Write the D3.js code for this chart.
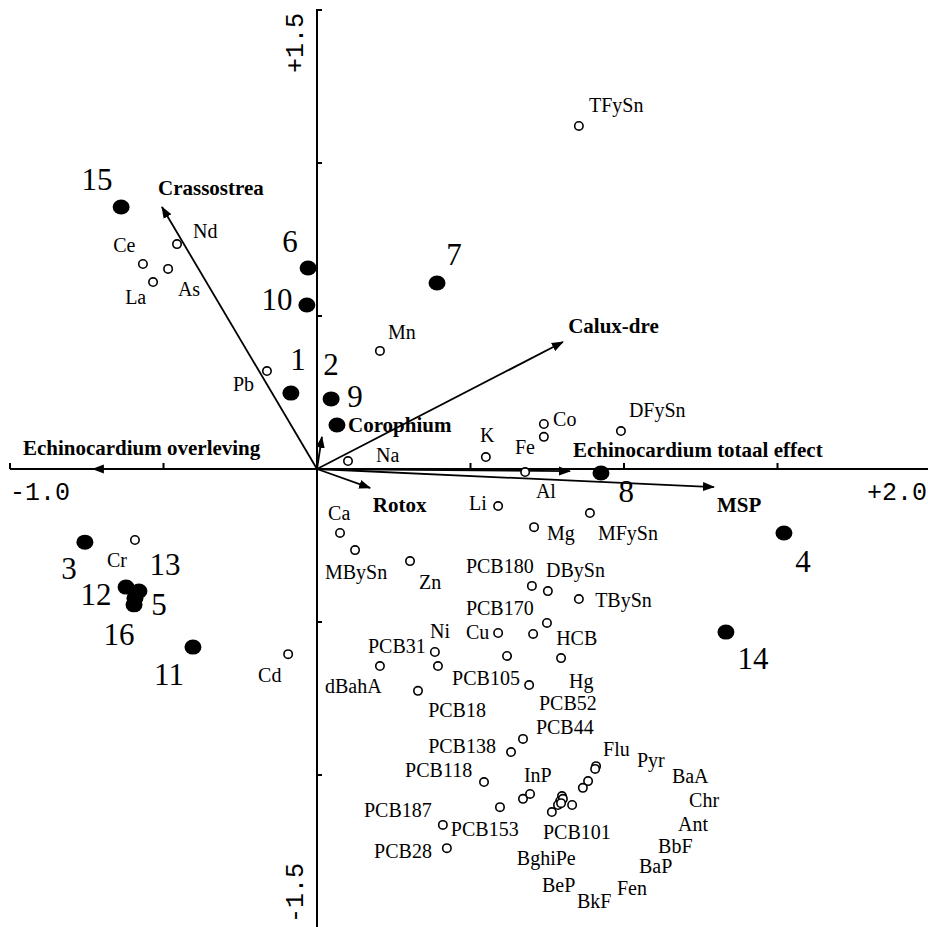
<!DOCTYPE html>
<html>
<head>
<meta charset="utf-8">
<script src="https://cdn.jsdelivr.net/npm/d3@7"></script>
<style>
  body { margin: 0; background: #fff; }
  text { font-family: "Liberation Serif", "Times New Roman", serif; fill: #000; }
  text.mono { font-family: "Liberation Mono", "DejaVu Sans Mono", monospace; font-size: 25px; }
</style>
</head>
<body>
<svg id="chart"></svg>
<script>
// sites (filled dots), in ordination units
const sampleNames = ["1", "2", "3", "4", "5", "6", "7", "8", "9", "10", "11", "12", "13", "14", "15", "16"];
const sampleX = [-0.085, 0.046, -0.756, 1.521, -0.593, -0.029, 0.391, 0.925, 0.065, -0.033, -0.404, -0.622, -0.580, 1.332, -0.638, -0.596];
const sampleY = [0.248, 0.229, -0.239, -0.209, -0.422, 0.657, 0.608, -0.013, 0.144, 0.536, -0.582, -0.386, -0.399, -0.533, 0.856, -0.444];
// where each site number sits (centre, baseline)
const sampleLabelX = [-0.062, 0.046, -0.808, 1.583, -0.515, -0.088, 0.446, 1.007, 0.124, -0.130, -0.482, -0.720, -0.495, 1.420, -0.717, -0.645];
const sampleLabelY = [0.324, 0.307, -0.359, -0.337, -0.477, 0.709, 0.667, -0.108, 0.203, 0.520, -0.706, -0.444, -0.346, -0.654, 0.912, -0.575];

// contaminants (open circles)
const varNames = ["Nd", "Ce", "La", "As", "Pb", "Mn", "TFySn", "Na", "K", "Co", "Fe", "Al", "DFySn", "Li", "Mg", "MFySn",
  "Ca", "MBySn", "Zn", "Cr", "Cd", "PCB180", "DBySn", "TBySn", "PCB170", "Cu", "HCB", "PCB105", "Hg", "PCB52", "Ni", "PCB31",
  "dBahA", "PCB18", "PCB44", "PCB138", "PCB118", "PCB187", "PCB153", "PCB28", "InP", "Flu", "Pyr", "BaA", "Chr", "Ant",
  "BbF", "BaP", "Fen", "BkF", "BeP", "BghiPe", "PCB101"];
const varX = [-0.456, -0.567, -0.534, -0.485, -0.163, 0.205, 0.853, 0.101, 0.550, 0.739, 0.739, 0.678, 0.990, 0.590, 0.707, 0.889,
  0.075, 0.124, 0.303, -0.593, -0.094, 0.700, 0.752, 0.853, 0.704, 0.590, 0.749, 0.619, 0.795, 0.691, 0.384, 0.394,
  0.205, 0.329, 0.671, 0.632, 0.544, 0.410, 0.596, 0.423, 0.671, 0.909, 0.906, 0.883, 0.866, 0.831,
  0.798, 0.792, 0.801, 0.785, 0.765, 0.694, 0.795];
const varY = [0.735, 0.670, 0.611, 0.654, 0.320, 0.386, 1.121, 0.026, 0.039, 0.147, 0.105, -0.010, 0.124, -0.121, -0.190, -0.144,
  -0.209, -0.265, -0.301, -0.232, -0.605, -0.382, -0.399, -0.425, -0.539, -0.536, -0.503, -0.611, -0.618, -0.706, -0.598, -0.644,
  -0.644, -0.725, -0.882, -0.925, -1.023, -1.163, -1.105, -1.239, -1.078, -0.971, -0.980, -1.020, -1.042, -1.098,
  -1.069, -1.085, -1.078, -1.098, -1.121, -1.062, -1.092];
// where each name starts (left, baseline)
const varLabelX = [-0.404, -0.664, -0.625, -0.453, -0.274, 0.231, 0.886, 0.192, 0.531, 0.769, 0.645, 0.713, 1.016, 0.495, 0.749, 0.915,
  0.036, 0.026, 0.332, -0.684, -0.192, 0.485, 0.746, 0.906, 0.485, 0.485, 0.779, 0.440, 0.821, 0.723, 0.368, 0.166,
  0.026, 0.362, 0.713, 0.362, 0.287, 0.153, 0.436, 0.186, 0.674, 0.932, 1.042, 1.156, 1.212, 1.176,
  1.111, 1.049, 0.977, 0.847, 0.733, 0.651, 0.736];
const varLabelY = [0.755, 0.709, 0.539, 0.565, 0.255, 0.425, 1.167, 0.023, 0.088, 0.141, 0.049, -0.095, 0.170, -0.134, -0.232, -0.232,
  -0.167, -0.359, -0.392, -0.320, -0.696, -0.340, -0.353, -0.451, -0.477, -0.556, -0.575, -0.706, -0.716, -0.788, -0.552, -0.601,
  -0.732, -0.810, -0.866, -0.928, -1.007, -1.137, -1.199, -1.271, -1.023, -0.938, -0.974, -1.026, -1.105, -1.183,
  -1.255, -1.320, -1.392, -1.435, -1.382, -1.294, -1.209];

// bioassay arrows
const arrowNames = ["Crassostrea", "Echinocardium overleving", "Corophium", "Calux-dre", "Echinocardium totaal effect", "MSP", "Rotox"];
const arrowX = [-0.505, -0.730, 0.016, 0.801, 0.824, 1.293, 0.173];
const arrowY = [0.856, 0.000, 0.105, 0.415, -0.007, -0.059, -0.062];
const arrowLabelX = [-0.518, -0.958, 0.101, 0.818, 0.834, 1.303, 0.182];
const arrowLabelY = [0.895, 0.046, 0.121, 0.444, 0.039, -0.141, -0.141];

// axes
const xTicks = [-1.0, -0.5, 0.5, 1.0, 1.5];
const yTicks = [1.5, 1.0, 0.5, -0.5, -1.0];
const xTickLabels = ["-1.0", "+2.0"];
const yTickLabels = ["+1.5", "-1.5"];

const width = 928, height = 927;

const svg = d3.select("#chart")
  .attr("width", width)
  .attr("height", height);

const x = d3.scaleLinear().domain([-1, 2]).range([10, 931]);
const y = d3.scaleLinear().domain([1.5, -1.5]).range([10, 928]);

// arrow head
svg.append("defs").append("marker")
  .attr("id", "head")
  .attr("viewBox", "0 -5 12 10")
  .attr("refX", 11)
  .attr("refY", 0)
  .attr("markerWidth", 12)
  .attr("markerHeight", 10)
  .attr("markerUnits", "userSpaceOnUse")
  .attr("orient", "auto")
  .append("path")
  .attr("d", "M0,-4.5L12,0L0,4.5Z")
  .attr("fill", "#000");

// axis lines
const ax = svg.append("g").attr("stroke", "#000").attr("stroke-width", 2);
ax.append("line")
  .attr("x1", x(-1)).attr("x2", width)
  .attr("y1", y(0)).attr("y2", y(0));
ax.append("line")
  .attr("x1", x(0)).attr("x2", x(0))
  .attr("y1", y(1.5)).attr("y2", height);
ax.selectAll(".xt")
  .data(xTicks)
  .enter().append("line")
  .attr("x1", d => x(d)).attr("x2", d => x(d))
  .attr("y1", y(0)).attr("y2", y(0) - 6);
ax.selectAll(".yt")
  .data(yTicks)
  .enter().append("line")
  .attr("y1", d => y(d)).attr("y2", d => y(d))
  .attr("x1", x(0) - 1).attr("x2", x(0) + 5);

// tick labels
const mono = svg.append("g");
mono.append("text").attr("class", "mono")
  .attr("x", x(-1)).attr("y", y(0) + 31)
  .text(xTickLabels[0]);
mono.append("text").attr("class", "mono")
  .attr("x", width - 1).attr("y", y(0) + 31)
  .attr("text-anchor", "end")
  .text(xTickLabels[1]);
mono.append("text").attr("class", "mono")
  .attr("transform", `translate(${x(0) - 14},${y(1.5) + 3}) rotate(-90)`)
  .attr("text-anchor", "end")
  .text(yTickLabels[0]);
mono.append("text").attr("class", "mono")
  .attr("transform", `translate(${x(0) - 14},${y(-1.5) - 5}) rotate(-90)`)
  .text(yTickLabels[1]);

// arrows
const arrows = arrowNames.map((n, i) => ({name: n, x: arrowX[i], y: arrowY[i], lx: arrowLabelX[i], ly: arrowLabelY[i]}));
svg.append("g").selectAll("line")
  .data(arrows)
  .enter().append("line")
  .attr("x1", x(0)).attr("y1", y(0))
  .attr("x2", d => x(d.x)).attr("y2", d => y(d.y))
  .attr("stroke", "#000")
  .attr("stroke-width", 1.8)
  .attr("marker-end", "url(#head)");

// variables
const vars = varNames.map((n, i) => ({name: n, x: varX[i], y: varY[i], lx: varLabelX[i], ly: varLabelY[i]}));
svg.append("g").selectAll("circle")
  .data(vars)
  .enter().append("circle")
  .attr("cx", d => x(d.x)).attr("cy", d => y(d.y))
  .attr("r", 4.2)
  .attr("fill", "#fff")
  .attr("stroke", "#000")
  .attr("stroke-width", 1.6);

// sites
const samples = sampleNames.map((n, i) => ({name: n, x: sampleX[i], y: sampleY[i], lx: sampleLabelX[i], ly: sampleLabelY[i]}));
svg.append("g").selectAll("ellipse")
  .data(samples)
  .enter().append("ellipse")
  .attr("cx", d => x(d.x)).attr("cy", d => y(d.y))
  .attr("rx", 8.5).attr("ry", 7.5)
  .attr("fill", "#000");

// labels
svg.append("g").selectAll("text")
  .data(vars)
  .enter().append("text")
  .attr("x", d => x(d.lx)).attr("y", d => y(d.ly))
  .style("font-size", "20px")
  .text(d => d.name);

svg.append("g").selectAll("text")
  .data(arrows)
  .enter().append("text")
  .attr("x", d => x(d.lx)).attr("y", d => y(d.ly))
  .style("font-size", "21px")
  .style("font-weight", "bold")
  .text(d => d.name);

svg.append("g").selectAll("text")
  .data(samples)
  .enter().append("text")
  .attr("x", d => x(d.lx)).attr("y", d => y(d.ly))
  .attr("text-anchor", "middle")
  .style("font-size", "31px")
  .text(d => d.name);
</script>
</body>
</html>
